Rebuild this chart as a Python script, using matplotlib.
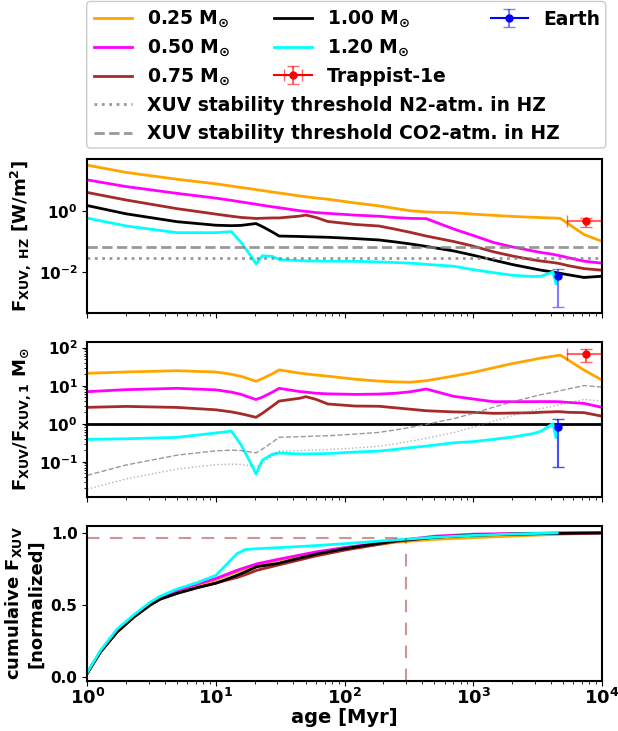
import numpy as np
import matplotlib.pyplot as plt
from matplotlib.patches import FancyBboxPatch
from matplotlib.lines import Line2D
from matplotlib.ticker import NullLocator, LogLocator, FixedLocator

plt.rcParams['font.family'] = ['DejaVu Sans']
plt.rcParams['font.weight'] = 'bold'
plt.rcParams['axes.labelweight'] = 'bold'
plt.rcParams['mathtext.default'] = 'bf'
plt.rcParams['axes.linewidth'] = 1.5

# stellar age [Myr] at which the XUV flux curves were read
age = [1, 2, 5, 10, 13.2, 15.7, 18.7, 20.5, 23, 27.5, 31, 45, 50, 60, 74, 121, 185,
       245, 326, 432, 707, 1000, 1440, 2040, 2930, 3370, 4170, 4410, 4550, 4760,
       5480, 7280, 10000]

# XUV flux in the habitable zone [W/m^2]
f_025 = [31.3, 18.2, 10.8, 7.67, 6.46, 5.82, 5.25, 4.95, 4.62, 4.12, 3.85, 3.05, 2.88,
         2.63, 2.40, 1.80, 1.45, 1.20, 1.00, 0.912, 0.859, 0.776, 0.708, 0.653, 0.610,
         0.596, 0.579, 0.573, 0.569, 0.562, 0.376, 0.166, 0.100]
f_050 = [10.3, 6.24, 3.72, 2.60, 2.19, 1.95, 1.74, 1.64, 1.51, 1.35, 1.26, 1.00, 0.955,
         0.871, 0.822, 0.719, 0.661, 0.600, 0.562, 0.552, 0.251, 0.155, 0.0910, 0.0644,
         0.0478, 0.0427, 0.0372, 0.0355, 0.0346, 0.0331, 0.0288, 0.0221, 0.0191]
f_075 = [3.98, 2.26, 1.17, 0.776, 0.661, 0.603, 0.575, 0.558, 0.569, 0.582, 0.582, 0.668,
         0.724, 0.603, 0.445, 0.355, 0.316, 0.251, 0.195, 0.148, 0.0977, 0.0692, 0.0449,
         0.0324, 0.0245, 0.0224, 0.0200, 0.0193, 0.0189, 0.0182, 0.0158, 0.0126, 0.0112]
f_100 = [1.48, 0.794, 0.437, 0.335, 0.324, 0.331, 0.363, 0.380, 0.302, 0.200, 0.148,
         0.143, 0.141, 0.138, 0.135, 0.122, 0.110, 0.0955, 0.0813, 0.0676, 0.0479,
         0.0347, 0.0240, 0.0170, 0.0126, 0.0112, 0.00977, 0.00933, 0.00912, 0.00881,
         0.00794, 0.00646, 0.00708]
f_120 = [0.573, 0.318, 0.191, 0.191, 0.207, 0.0910, 0.0328, 0.0180, 0.0334, 0.0316,
         0.0251, 0.0229, 0.0226, 0.0224, 0.0221, 0.0219, 0.0209, 0.0200, 0.0191, 0.0174,
         0.0151, 0.0117, 0.00933, 0.00759, 0.00692, 0.00708, 0.00977, 0.00398, 0.00759,
         np.nan, np.nan, np.nan, np.nan]

masses = ['0.25', '0.50', '0.75', '1.00', '1.20']
colors = ['orange', 'magenta', 'brown', 'black', 'cyan']
fluxes = [f_025, f_050, f_075, f_100, f_120]

# XUV stability thresholds in the HZ [W/m^2]
thr_n2 = 0.028
thr_co2 = 0.065

# cumulative XUV, normalized
cum_age = [1, 1.26, 1.7, 2.3, 3.1, 3.7, 5, 7.2, 10, 14.6, 17, 20.8, 30, 60, 100, 250,
           500, 1000, 2000, 4500, 10000]
cum_025 = [0.025, 0.17, 0.31, 0.415, 0.505, 0.545, 0.59, 0.635, 0.675, 0.73, 0.75, 0.775,
           0.81, 0.86, 0.89, 0.935, 0.955, 0.967, 0.978, 0.99, 1.0]
cum_050 = [0.025, 0.17, 0.315, 0.42, 0.51, 0.55, 0.60, 0.645, 0.683, 0.74, 0.76, 0.785,
           0.815, 0.868, 0.898, 0.945, 0.977, 0.991, 0.996, 0.999, 1.0]
cum_075 = [0.025, 0.17, 0.31, 0.415, 0.50, 0.54, 0.58, 0.62, 0.652, 0.69, 0.71, 0.74,
           0.775, 0.84, 0.88, 0.94, 0.97, 0.985, 0.993, 0.998, 1.0]
cum_100 = [0.025, 0.17, 0.31, 0.415, 0.50, 0.54, 0.58, 0.62, 0.65, 0.705, 0.73, 0.765,
           0.787, 0.852, 0.89, 0.945, 0.97, 0.984, 0.991, 0.997, 1.0]
cum_120 = [0.03, 0.18, 0.33, 0.43, 0.52, 0.56, 0.61, 0.655, 0.705, 0.856, 0.885, 0.89,
           0.897, 0.912, 0.925, 0.952, 0.97, 0.983, 0.992, 1.0, np.nan]
cums = [cum_025, cum_050, cum_075, cum_100, cum_120]
ref_age = 300
ref_cum = 0.965

# observed planets: age [Myr], age err, flux, flux err (low, high), ratio, ratio err
earth_age = 4570
earth_f, earth_ferr = 0.0074, [[0.0067], [0.0052]]
earth_r, earth_rerr = 0.80, [[0.726], [0.55]]
trap_age, trap_age_err = 7600, 2200
trap_f, trap_ferr = 0.45, [[0.16], [0.14]]
trap_r, trap_rerr = 68, [[25], [23]]

fig = plt.figure(figsize=(6.18, 7.31), dpi=100)
ax1 = fig.add_axes([0.1413, 0.5714, 0.8324, 0.2107])
ax2 = fig.add_axes([0.1413, 0.3205, 0.8324, 0.2112], sharex=ax1)
ax3 = fig.add_axes([0.1413, 0.0688, 0.8324, 0.2120], sharex=ax1)

age_a = np.array(age)
black = np.array(f_100)

# top: absolute flux in HZ
mass_lines = []
for m, c, f in zip(masses, colors, fluxes):
    ln, = ax1.plot(age_a, f, color=c, lw=2, label=m + r' M$_{\odot}$')
    mass_lines.append(ln)
n2_line = ax1.axhline(thr_n2, color='grey', ls=':', lw=2, alpha=0.8)
co2_line = ax1.axhline(thr_co2, color='grey', ls='--', lw=2, alpha=0.8)
trap = ax1.errorbar(trap_age, trap_f, xerr=trap_age_err, yerr=trap_ferr, marker='o', ms=5,
                    color='red', ecolor=(1, 0, 0, 0.6), capsize=4, label='Trappist-1e')
earth = ax1.errorbar(earth_age, earth_f, yerr=earth_ferr, marker='o', ms=5,
                     color='blue', ecolor=(0, 0, 1, 0.5), capsize=4, label='Earth')
ax1.set_xscale('log')
ax1.set_yscale('log')
ax1.set_xlim(1, 1e4)
ax1.set_ylim(4.3e-4, 49)
ax1.yaxis.set_major_locator(FixedLocator([1e-2, 1]))
ax1.yaxis.set_minor_locator(NullLocator())
ax1.set_ylabel(r'F$_{XUV,\ HZ}$ [W/m$^{2}$]', fontsize=13)

# middle: flux relative to solar-mass star
for c, f in zip(colors, fluxes):
    ax2.plot(age_a, np.array(f) / black, color=c, lw=2)
ax2.plot(age_a, thr_n2 / black, color='grey', ls=':', lw=1, alpha=0.6)
ax2.plot(age_a, thr_co2 / black, color='grey', ls='--', lw=1, alpha=0.8)
ax2.errorbar(trap_age, trap_r, xerr=trap_age_err, yerr=trap_rerr, marker='o', ms=5,
             color='red', ecolor=(1, 0, 0, 0.6), capsize=4)
ax2.errorbar(earth_age, earth_r, yerr=earth_rerr, marker='o', ms=5,
             color='blue', ecolor=(0, 0, 1, 0.7), capsize=4)
ax2.set_yscale('log')
ax2.set_ylim(0.012, 138)
ax2.yaxis.set_major_locator(LogLocator(base=10, numticks=10))
ax2.set_ylabel(r'F$_{XUV}$/F$_{XUV,1}$ M$_{\odot}$', fontsize=13)

# bottom: cumulative XUV
for c, cu in zip(colors, cums):
    ax3.plot(cum_age, cu, color=c, lw=2)
ax3.plot([1, ref_age], [ref_cum, ref_cum], color='brown', ls=(0, (6, 5)), lw=1.5, alpha=0.5)
ax3.plot([ref_age, ref_age], [-0.03, ref_cum], color='brown', ls=(0, (6, 5)), lw=1.5, alpha=0.5)
ax3.set_ylim(-0.028, 1.05)
ax3.set_yticks([0.0, 0.5, 1.0])
ax3.set_xlabel('age [Myr]', fontsize=14, labelpad=0)
ax3.set_ylabel('cumulaive F$_{XUV}$\n[normalized]', fontsize=13)

for ax in (ax1, ax2, ax3):
    ax.tick_params(axis='y', labelsize=11)
    ax.tick_params(axis='x', labelsize=13, pad=2)
for ax in (ax1, ax2):
    ax.tick_params(axis='x', labelbottom=False)
fig.align_ylabels([ax1, ax2, ax3])

# legend: one frame round two blocks
frame = FancyBboxPatch((0.1403, 0.7975), 0.8400, 0.2005,
                       boxstyle='round,pad=0,rounding_size=0.006',
                       transform=fig.transFigure, fc='white', ec='0.8', lw=1)
fig.add_artist(frame)
blank = Line2D([], [], alpha=0)
handles = mass_lines[:3] + mass_lines[3:] + [trap, earth, blank, blank]
labels = [h.get_label() for h in handles[:7]] + ['', '']
leg1 = fig.legend(handles, labels, ncol=3, frameon=False,
                  loc='upper left', bbox_to_anchor=(0.1403, 0.9986), fontsize=13.5,
                  borderaxespad=0, columnspacing=2.35, labelspacing=0.4)
leg2 = fig.legend([n2_line, co2_line],
                  ['XUV stability threshold N2-atm. in HZ',
                   'XUV stability threshold CO2-atm. in HZ'],
                  frameon=False, loc='upper left', bbox_to_anchor=(0.1403, 0.879),
                  fontsize=13.5, borderaxespad=0)

fig.savefig('out.png', dpi=100)
